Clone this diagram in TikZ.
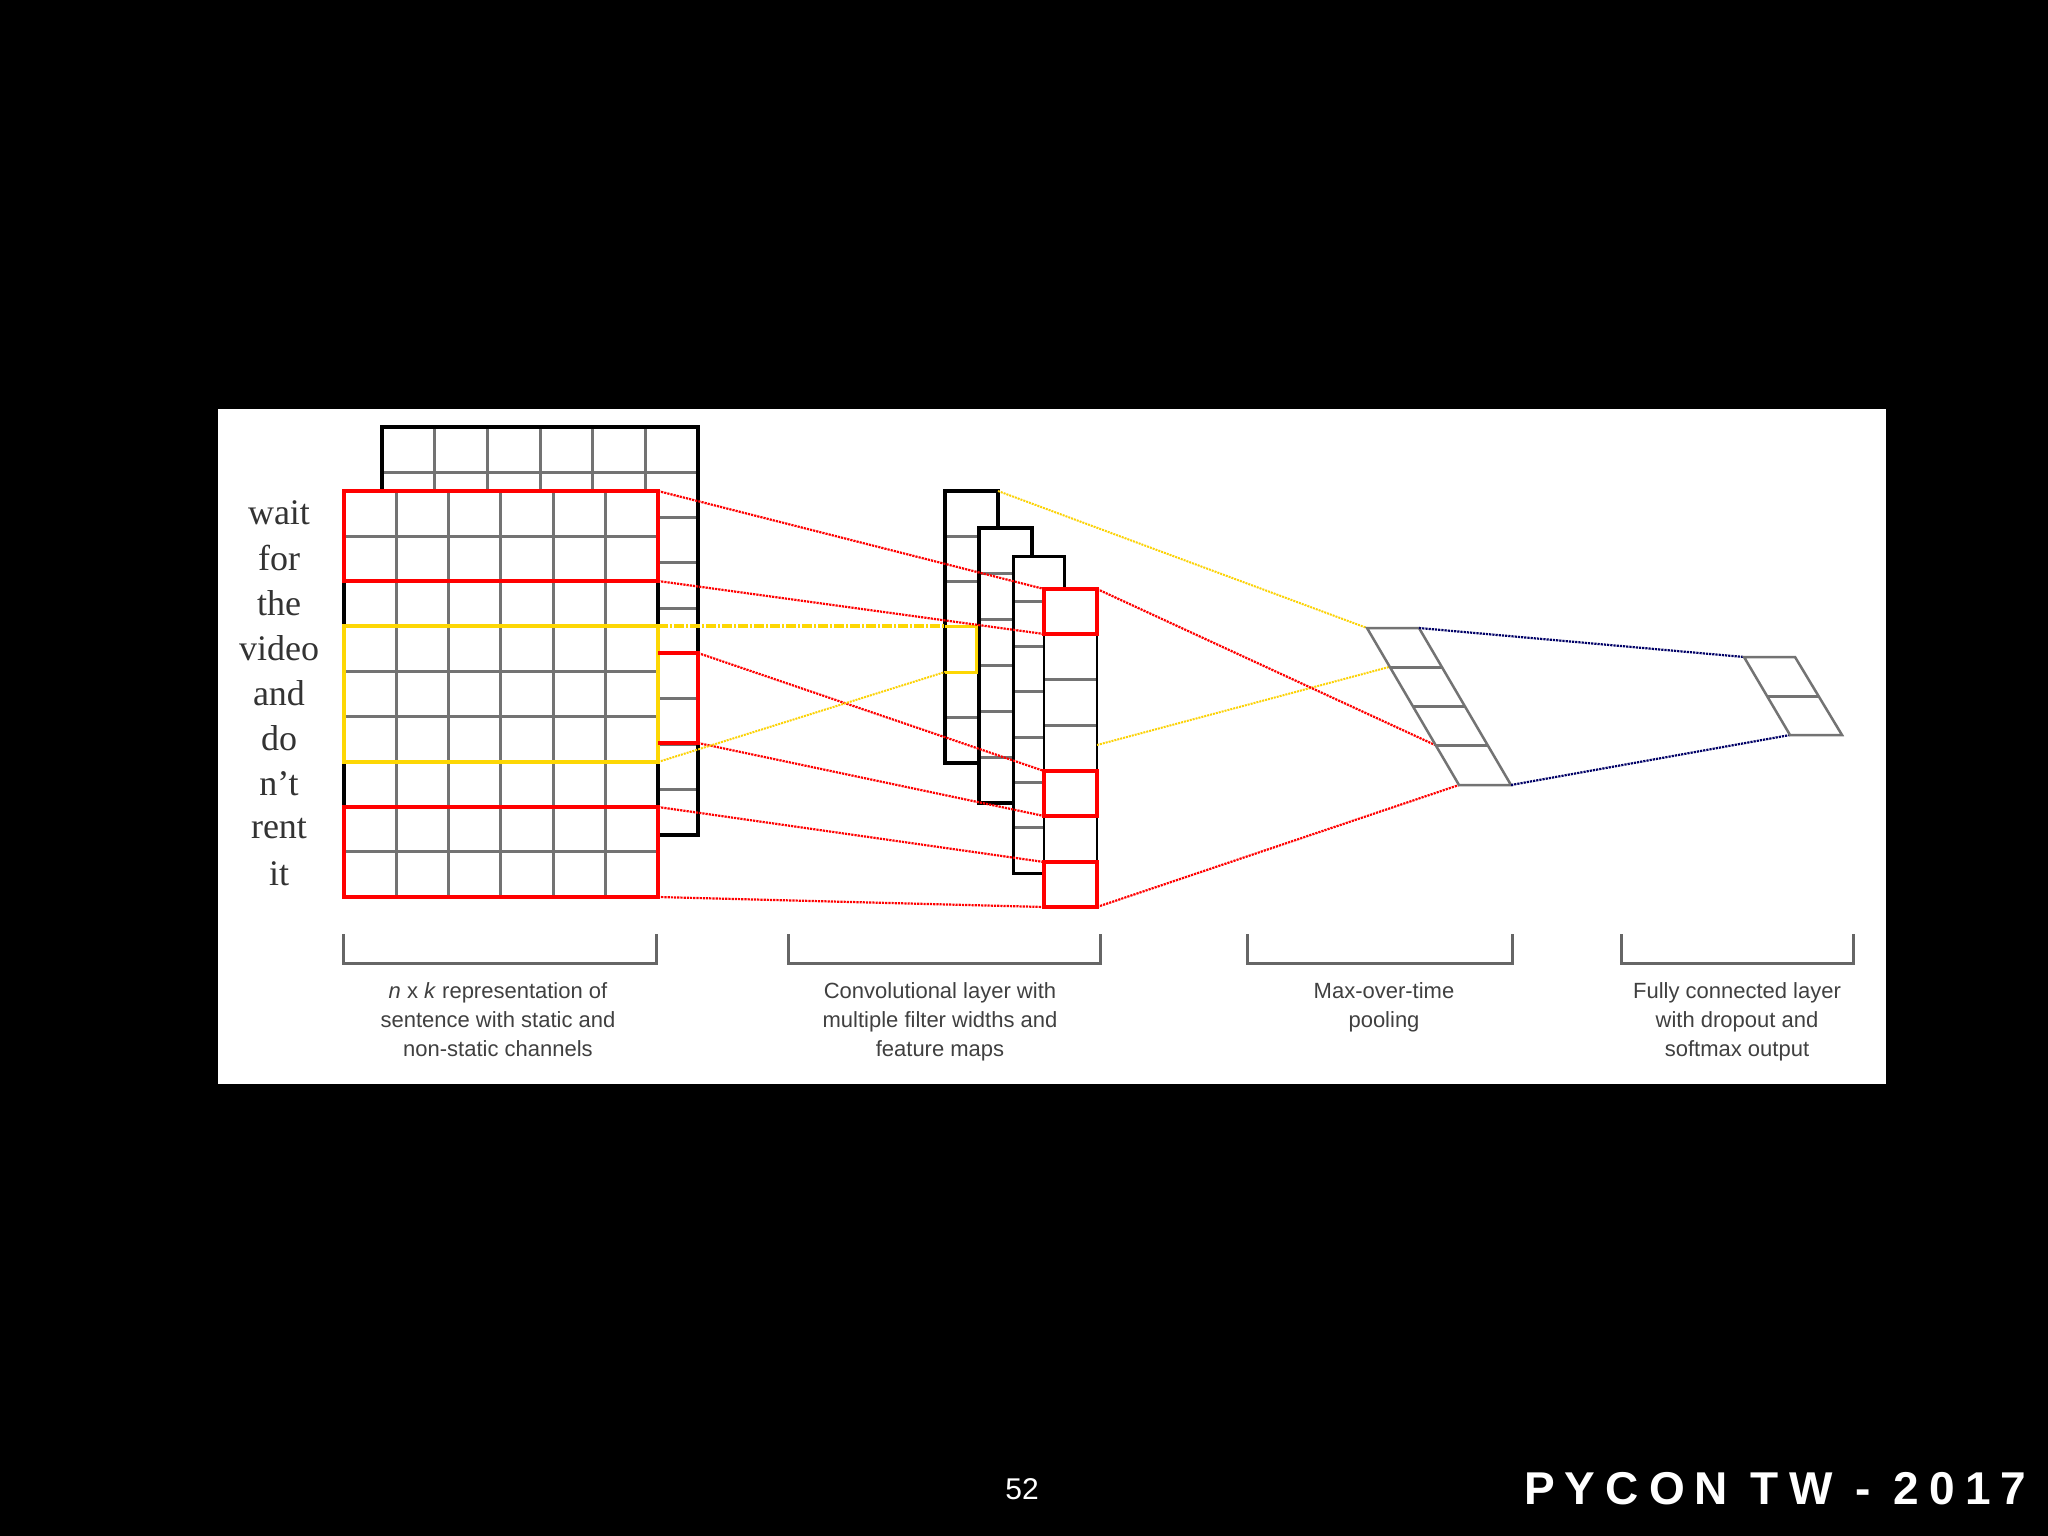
\documentclass[tikz,border=0pt]{standalone}
\usepackage{fontspec}
\setmainfont{Liberation Serif}
\newfontfamily\sans{Liberation Sans}
\begin{document}
\begin{tikzpicture}[x=1pt,y=-1pt,
  gridl/.style={draw=gray!90!black,line width=3pt},
  blk/.style={draw=black,line width=3.5pt},
  redb/.style={draw=red,line width=4pt},
  yelb/.style={draw=yellow!75!orange,line width=4pt},
  rdot/.style={draw=red,densely dotted,line width=2.2pt},
  ydot/.style={draw=yellow!70!orange,densely dotted,line width=2pt},
  ndot/.style={draw=blue!40!black,densely dotted,line width=2.2pt},
  brk/.style={draw=gray!80!black,line width=3pt},
  word/.style={font=\fontsize{36}{36}\selectfont,text=black!80},
  lab/.style={font=\sans\fontsize{22}{29}\selectfont,text=black!75,align=center}]
\fill[black] (0,0) rectangle (2048,1536);
\useasboundingbox (0,0) rectangle (2048,1536);
\fill[white] (218,409) rectangle (1886,1084);
% back matrix
\fill[white] (382,427) rectangle (698,835);
\foreach \i in {1,...,5} \draw[gridl] (382+\i*52.67,427) -- (382+\i*52.67,835);
\foreach \j in {1,...,8} \draw[gridl] (382,427+\j*45.33) -- (698,427+\j*45.33);
\draw[blk] (382,427) rectangle (698,835);
% front matrix
\fill[white] (344,491) rectangle (658,897);
\foreach \i in {1,...,5} \draw[gridl] (344+\i*52.33,491) -- (344+\i*52.33,897);
\foreach \j in {1,...,8} \draw[gridl] (344,491+\j*45.11) -- (658,491+\j*45.11);
\draw[blk] (344,491) rectangle (658,897);
\draw[redb] (344,491) rectangle (658,581);
\draw[redb] (344,807) rectangle (658,897);
\draw[yelb] (344,626) rectangle (658,762);
\draw[redb] (658,653) -- (698,653) -- (698,743) -- (658,743);
% words
\foreach \w [count=\k from 0] in {wait,for,the,video,and,do,n't,rent,it}
  \node[word] (w\k) at (279,513+\k*45.11) {\w};
% feature maps
\fill[white] (945,491) rectangle (998,763);
\foreach \j in {1,...,5} \draw[gridl] (945,491+\j*45.33) -- (998,491+\j*45.33);
\draw[blk] (945,491) rectangle (998,763);
\fill[white] (979,528) rectangle (1032,803);
\foreach \j in {1,...,5} \draw[gridl] (979,528+\j*45.83) -- (1032,528+\j*45.83);
\draw[blk,line width=4.5pt] (979,528) rectangle (1032,803);
\fill[white] (1013,556) rectangle (1064,873);
\foreach \j in {1,...,6} \draw[gridl] (1013,556+\j*45.3) -- (1064,556+\j*45.3);
\draw[blk,line width=3pt] (1013,556) rectangle (1064,873);
\fill[white] (1044,589) rectangle (1097,907);
\foreach \j in {1,...,6} \draw[gridl] (1044,589+\j*45.43) -- (1097,589+\j*45.43);
\draw[blk,line width=2.5pt] (1044,589) rectangle (1097,907);
\draw[redb] (1044,589) rectangle (1097,634);
\draw[redb] (1044,771) rectangle (1097,816);
\draw[redb] (1044,862) rectangle (1097,907);
\draw[yelb,line width=3pt] (945,626) -- (976,626) -- (976,672) -- (945,672);
% named points
\coordinate (fa) at (658,491); \coordinate (fb) at (658,581);
\coordinate (fc) at (698,653); \coordinate (fd) at (698,743);
\coordinate (fe) at (658,807); \coordinate (ff) at (658,897);
\coordinate (fy1) at (658,626); \coordinate (fy2) at (658,762);
\coordinate (ma) at (1044,589); \coordinate (mb) at (1044,634);
\coordinate (mc) at (1044,771); \coordinate (md) at (1044,816);
\coordinate (me) at (1044,862); \coordinate (mf) at (1044,907);
\coordinate (my1) at (945,626); \coordinate (my2) at (945,672);
\coordinate (m1t) at (998,491); \coordinate (m4y) at (1097,745);
\coordinate (m4t) at (1097,589); \coordinate (m4b) at (1097,907);
\coordinate (pt) at (1367,628); \coordinate (py) at (1389,667);
\coordinate (pr) at (1435,745); \coordinate (pb) at (1459,785);
\coordinate (ptr) at (1419,628); \coordinate (pbr) at (1511,785);
\coordinate (ot) at (1744,657); \coordinate (ob) at (1790,735);
% connectors
\draw[rdot] (fa) -- (ma); \draw[rdot] (fb) -- (mb);
\draw[rdot] (fc) -- (mc); \draw[rdot] (fd) -- (md);
\draw[rdot] (fe) -- (me); \draw[rdot] (ff) -- (mf);
\draw[draw=yellow!75!orange,line width=4pt,dash pattern=on 10pt off 2pt on 2pt off 2pt] (fy1) -- (my1);
\draw[ydot] (fy2) -- (my2);
\draw[ydot] (m1t) -- (pt); \draw[ydot] (m4y) -- (py);
\draw[rdot] (m4t) -- (pr); \draw[rdot] (m4b) -- (pb);
% pooling
\draw[gridl,line width=2.5pt] (1367,628) -- (1419,628) -- (1511,785) -- (1459,785) -- cycle;
\foreach \t in {0.25,0.5,0.75}
  \draw[gridl,line width=3pt] (1367+\t*92,628+\t*157) -- (1419+\t*92,628+\t*157);
\draw[ndot] (ptr) -- (ot); \draw[ndot] (pbr) -- (ob);
% output
\draw[gridl,line width=2.5pt] (1744,657) -- (1795,657) -- (1842,735) -- (1790,735) -- cycle;
\draw[gridl] (1767,696) -- (1818,696);
% brackets
\draw[brk] (343,934) -- (343,963) -- (656,963) -- (656,934);
\draw[brk] (788,934) -- (788,963) -- (1100,963) -- (1100,934);
\draw[brk] (1247,934) -- (1247,963) -- (1512,963) -- (1512,934);
\draw[brk] (1621,934) -- (1621,963) -- (1853,963) -- (1853,934);
\node[lab,anchor=north] (l1) at (498,979) {\textit{n} x \textit{k} representation of\\sentence with static and\\non-static channels};
\node[lab,anchor=north] (l2) at (940,979) {Convolutional layer with\\multiple filter widths and\\feature maps};
\node[lab,anchor=north] (l3) at (1384,979) {Max-over-time\\pooling};
\node[lab,anchor=north] (l4) at (1737,979) {Fully connected layer\\with dropout and\\softmax output};
% footer
\node[text=white,font=\sans\fontsize{30}{30}\selectfont] (pg) at (1022,1489) {52};
\node[text=white,font=\sans\bfseries\fontsize{46}{46}\selectfont\addfontfeature{LetterSpace=22},anchor=east] (tt) at (2030,1489) {PYCON TW - 2017};
\end{tikzpicture}
\end{document}
